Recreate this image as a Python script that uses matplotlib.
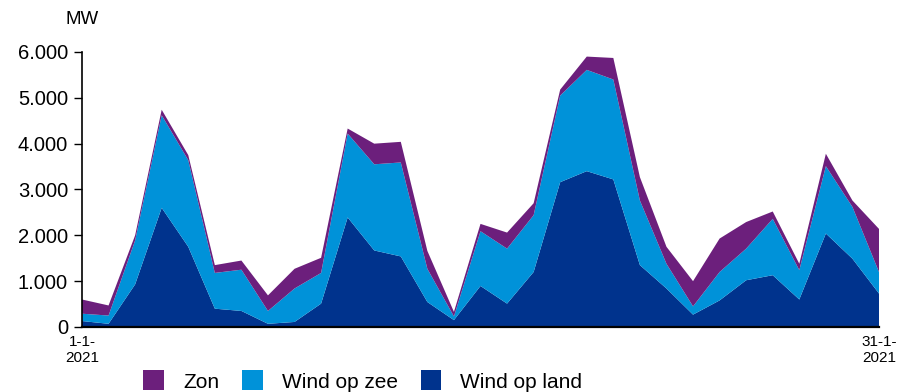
import numpy as np
import matplotlib.pyplot as plt

plt.rcParams['font.family'] = ['Liberation Sans', 'DejaVu Sans']

days = np.arange(1, 32)
# MW per dag, januari 2021
wind_land = [130, 70, 930, 2600, 1750, 400, 350, 70, 110, 510,
             2390, 1670, 1540, 545, 150, 895, 510, 1200, 3160, 3400,
             3220, 1350, 840, 270, 580, 1020, 1130, 600, 2040, 1490, 730]
wind_zee_top = [290, 250, 1890, 4620, 3640, 1180, 1250, 350, 840, 1180,
                4220, 3550, 3590, 1270, 230, 2090, 1710, 2440, 5050, 5610,
                5400, 2760, 1380, 450, 1200, 1710, 2360, 1240, 3510, 2620, 1200]
totaal = [600, 470, 2000, 4740, 3750, 1350, 1450, 690, 1270, 1510,
          4330, 4000, 4040, 1660, 330, 2250, 2060, 2700, 5180, 5900,
          5870, 3270, 1750, 1000, 1930, 2290, 2520, 1380, 3780, 2760, 2140]

wind_zee = np.array(wind_zee_top) - np.array(wind_land)
zon = np.array(totaal) - np.array(wind_zee_top)

labels = ['Wind op land', 'Wind op zee', 'Zon']
colors = ['#00338D', '#0092D9', '#6C1F7C']

yticks = [0, 1000, 2000, 3000, 4000, 5000, 6000]
ytick_labels = ['0', '1.000', '2.000', '3.000', '4.000', '5.000', '6.000']
xtick_labels = ['1-1-\n2021', '31-1-\n2021']

fig = plt.figure(figsize=(8.97, 3.92), dpi=100)
ax = fig.add_axes([82 / 897, 1 - 327 / 392, 797 / 897, 275 / 392])

polys = ax.stackplot(days, wind_land, wind_zee, zon, colors=colors,
                     labels=labels, linewidth=0)

ax.set_xlim(1, 31)
ax.set_ylim(0, 6000)
ax.set_yticks(yticks)
ax.set_yticklabels(ytick_labels, fontsize=14.5)
ax.set_xticks([1, 31])
ax.set_xticklabels(xtick_labels, fontsize=11, linespacing=1.15)
ax.tick_params(axis='x', length=0, pad=6)
ax.tick_params(axis='y', length=6, width=1, direction='out', pad=4)

for s in ['top', 'right']:
    ax.spines[s].set_visible(False)
ax.spines['left'].set_linewidth(1.2)
ax.spines['bottom'].set_linewidth(1.6)

fig.text(65 / 897, 1 - 19 / 392, 'MW', fontsize=13.5, va='center', ha='left')

handles = [polys[2], polys[1], polys[0]]
fig.legend(handles, ['Zon', 'Wind op zee', 'Wind op land'],
           loc='upper left', bbox_to_anchor=(133 / 897, 1 - 360 / 392),
           ncol=3, frameon=False, fontsize=15, borderpad=0,
           handlelength=1.0, handleheight=1.1, handletextpad=0.9,
           columnspacing=1.1)

plt.savefig('out.png', dpi=100)
plt.close()
